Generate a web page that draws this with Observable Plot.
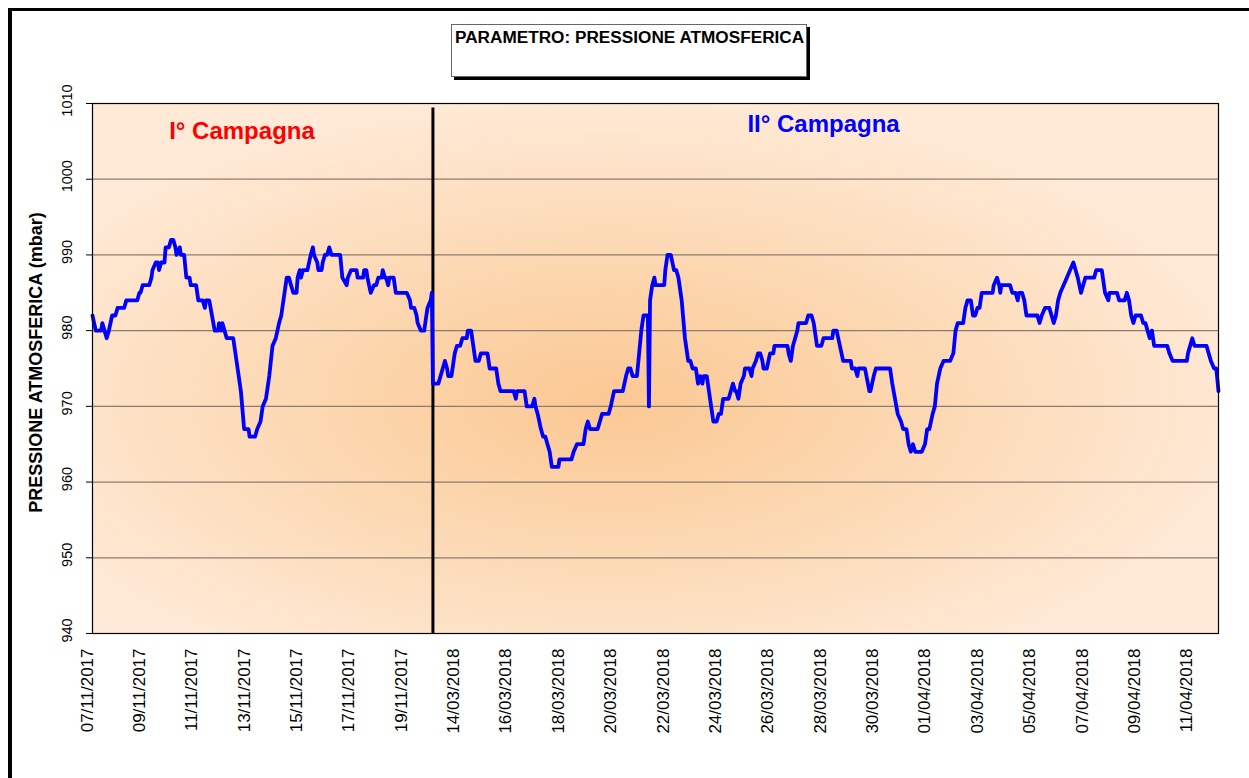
<!DOCTYPE html>
<html>
<head>
<meta charset="utf-8">
<script src="https://cdn.jsdelivr.net/npm/d3@7"></script>
<script src="https://cdn.jsdelivr.net/npm/@observablehq/plot@0.6"></script>
<style>
  html, body { margin: 0; padding: 0; background: #fff; overflow: hidden; width: 1249px; height: 778px; }
  #wrap { position: relative; width: 1249px; height: 778px; }
  #outer { position: absolute; left: 8px; top: 8px; width: 2000px; height: 2000px; border-top: 3px solid #000; border-left: 4px solid #000; box-sizing: border-box; }
  #title { position: absolute; left: 451px; top: 24px; width: 356px; height: 53px; box-sizing: border-box; border: 1px solid #666; background: #fff; box-shadow: 3px 3px 0 #000; font-family: "Liberation Sans", Arial, sans-serif; font-weight: bold; font-size: 17.2px; line-height: 17px; padding: 4px 0 0 3px; white-space: nowrap; color: #000; }
  #chart { position: absolute; left: 0; top: 0; }
</style>
</head>
<body>
<div id="wrap">
  <div id="outer"></div>
  <div id="chart"></div>
  <div id="title">PARAMETRO: PRESSIONE ATMOSFERICA</div>
</div>
<script>
// ---- Data ----
// Campaign 1: hours since 07/11/2017 00:00 ; Campaign 2: hours since 13/03/2018 00:00
const campaign1Hours = 13 * 24; // length of first campaign on the axis (07/11 -> 20/11)
const totalHours = campaign1Hours + 30 * 24; // second campaign 13/03 -> 12/04

const c1Hours = [0,3,8,9,11,13,15,18,21,23,29,31,41,43,44,46,52,54,55,58,60,61,63,66,67,70,72,74,76,77,80,81,84,86,89,90,95,97,101,103,104,107,112,115,116,118,119,121,123,129,132,136,139,143,144,149,151,154,156,159,162,165,168,171,173,176,178,180,182,184,187,188,190,191,193,197,200,202,203,206,207,210,211,213,215,217,219,227,229,233,234,237,242,243,248,249,251,252,255,258,260,262,265,266,268,269,271,272,276,278,288,291,292,295,297,298,301,304,307,310,311];
const c1Values = [982,980,980,981,980,979,980,982,982,983,983,984,984,985,985,986,986,987,988,989,989,988,989,989,991,991,992,992,991,990,991,990,990,987,987,986,986,984,984,983,984,984,980,980,981,980,981,980,979,979,976,972,967,967,966,966,967,968,970,971,974,978,979,981,982,985,987,987,986,985,985,987,988,987,988,988,990,991,990,989,988,988,989,990,990,991,990,990,987,986,987,988,988,987,987,988,988,987,985,986,986,987,987,988,987,987,986,987,987,985,985,984,983,983,982,981,980,980,983,984,985];

const c2Hours = [0,5,7,9,11,13,14,17,20,22,25,27,31,32,35,37,39,42,44,50,52,58,60,62,74,76,77,84,86,91,93,94,96,99,101,103,105,107,109,115,116,127,129,132,138,140,142,144,151,153,155,161,163,166,174,177,179,181,183,187,189,191,193,197,198,199,201,203,204,212,213,215,218,221,223,225,228,231,234,236,238,241,243,245,247,248,251,253,255,257,260,262,264,266,271,273,275,277,278,280,282,285,286,290,292,293,296,298,300,302,303,306,309,312,313,325,326,328,330,334,335,342,344,347,349,352,356,358,366,367,370,373,376,383,384,387,389,390,396,400,401,404,406,419,421,426,429,431,434,436,438,440,442,448,451,453,455,458,460,462,465,468,474,477,479,481,486,488,490,493,495,497,499,501,503,513,514,517,519,520,521,529,531,534,536,537,540,542,544,554,556,558,561,565,567,569,571,573,575,578,581,584,587,589,591,594,596,598,606,608,613,616,619,620,627,629,634,636,638,640,642,644,649,651,653,655,657,659,661,673,675,678,691,692,694,696,698,709,711,713,716,718,720];
const c2Values = [973,973,974,975,976,975,974,974,977,978,978,979,979,980,980,978,976,976,977,977,975,975,973,972,972,971,972,972,970,970,971,970,969,967,966,966,965,964,962,962,963,963,964,965,965,967,968,967,967,968,969,969,970,972,972,974,975,975,974,974,977,980,982,982,970,984,986,987,986,986,988,990,990,988,988,987,984,979,976,976,975,975,973,974,973,974,974,972,970,968,968,969,969,971,971,972,973,972,972,971,973,974,975,975,974,975,976,977,977,976,975,975,977,977,978,978,977,976,978,980,981,981,982,982,981,978,978,979,979,980,980,978,976,976,975,975,974,975,975,972,972,974,975,975,973,969,968,967,967,965,964,965,964,964,965,967,967,969,970,973,975,976,976,977,980,981,981,983,984,984,982,982,983,983,985,985,986,987,986,985,986,986,985,985,984,985,985,984,982,982,981,982,983,983,982,981,982,984,985,986,987,988,989,988,987,985,986,987,987,988,988,985,984,985,985,984,984,985,984,982,981,982,982,981,981,980,979,980,978,978,977,976,976,977,978,979,978,978,977,976,975,975,972];

const yTicks = [940, 950, 960, 970, 980, 990, 1000, 1010];
const xTickLabels = ["07/11/2017","09/11/2017","11/11/2017","13/11/2017","15/11/2017","17/11/2017","19/11/2017",
  "14/03/2018","16/03/2018","18/03/2018","20/03/2018","22/03/2018","24/03/2018","26/03/2018","28/03/2018",
  "30/03/2018","01/04/2018","03/04/2018","05/04/2018","07/04/2018","09/04/2018","11/04/2018"];
const xTickHours = [0,48,96,144,192,240,288,
  336,384,432,480,528,576,624,672,720,768,816,864,912,960,1008];

const campaignLabels = ["I° Campagna", "II° Campagna"];
const campaignLabelHours = [137, 670];
const campaignLabelValues = [1006.3, 1007.2];
const campaignLabelColors = ["#ff0000", "#0000ff"];

// ---- Build rows ----
const rows = [
  ...c1Hours.map((h, i) => ({x: h, v: c1Values[i]})),
  ...c2Hours.map((h, i) => ({x: campaign1Hours + h, v: c2Values[i]}))
];
const ticks = xTickHours.map((h, i) => ({x: h, label: xTickLabels[i]}));
const annos = campaignLabels.map((t, i) => ({t, x: campaignLabelHours[i], y: campaignLabelValues[i], c: campaignLabelColors[i]}));

const font = "'Liberation Sans', Arial, sans-serif";

const chart = Plot.plot({
  width: 1249,
  height: 778,
  marginLeft: 92,
  marginRight: 31,
  marginTop: 103,
  marginBottom: 145,
  style: {fontFamily: font, background: "transparent", overflow: "visible"},
  x: {domain: [0, totalHours], axis: null},
  y: {domain: [940, 1010], axis: null},
  marks: [
    Plot.frame({fill: "url(#bgGrad)", stroke: "none"}),
    Plot.ruleY(yTicks.slice(1, -1), {stroke: "#8c7c70", strokeWidth: 1.3}),
    Plot.ruleX([campaign1Hours], {y1: 1009.4, y2: 940, stroke: "#000", strokeWidth: 3}),
    Plot.line(rows, {x: "x", y: "v", stroke: "#0000ff", strokeWidth: 3.8, strokeLinejoin: "round"}),
    Plot.frame({stroke: "#000", strokeWidth: 1.2}),
    Plot.axisY({ticks: yTicks, tickSize: 6, tickFormat: () => "", label: null, stroke: "#000"}),
    Plot.text(yTicks, {y: d => d, text: d => String(d), frameAnchor: "left", textAnchor: "middle", dx: -25, dy: -3, rotate: -90, fontSize: 14.5, fill: "#000"}),
    Plot.text(ticks, {x: "x", text: "label", frameAnchor: "bottom", dy: 15, rotate: -90, textAnchor: "end", fontSize: 17, fill: "#000"}),
    Plot.text(["PRESSIONE ATMOSFERICA (mbar)"], {text: d => d, frameAnchor: "left", textAnchor: "middle", dx: -56, dy: -6, rotate: -90, fontSize: 18, fontWeight: "bold", fill: "#000"}),
    Plot.text(annos, {x: "x", y: "y", text: "t", fill: "c", fontSize: 24, fontWeight: "bold"})
  ]
});

// gradient definition for the plot area background
const ns = "http://www.w3.org/2000/svg";
const defs = document.createElementNS(ns, "defs");
defs.innerHTML = `<radialGradient id="bgGrad" cx="0.46" cy="0.56" r="0.58">
  <stop offset="0" stop-color="#fbc893"/>
  <stop offset="0.45" stop-color="#fcd7b0"/>
  <stop offset="1" stop-color="#feead7"/>
</radialGradient>`;
chart.insertBefore(defs, chart.firstChild);
document.getElementById("chart").appendChild(chart);
</script>
</body>
</html>
